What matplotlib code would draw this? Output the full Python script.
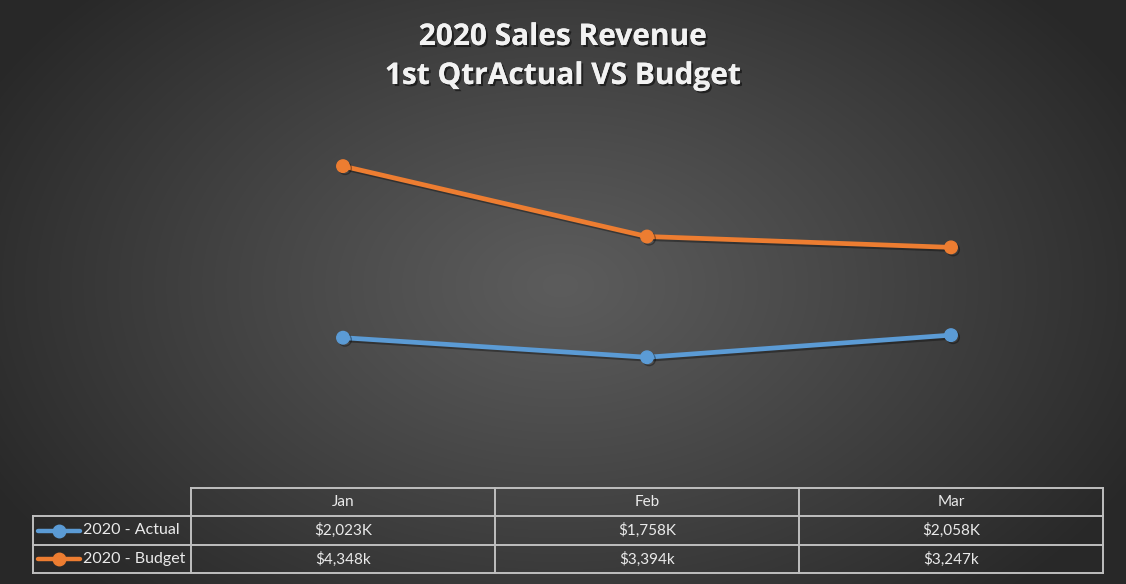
import numpy as np
import matplotlib
matplotlib.use("Agg")
import matplotlib.pyplot as plt
import matplotlib.patheffects as pe

# ---- data ----
months = ["Jan", "Feb", "Mar"]
actual = [2023, 1758, 2058]
budget = [4348, 3394, 3247]
series_names = ["2020 - Actual", "2020 - Budget"]
actual_suffix = "K"
budget_suffix = "k"
title_lines = ["2020 Sales Revenue", "1st QtrActual VS Budget"]

blue = "#5B9BD5"
orange = "#ED7D31"
grid_col = "#BFBFBF"
text_col = "#EAEAEA"

W, H = 1126, 584
fig = plt.figure(figsize=(W / 100, H / 100), dpi=100)

# background: radial gradient
bg = fig.add_axes([0, 0, 1, 1])
bg.set_xlim(0, W)
bg.set_ylim(H, 0)
bg.axis("off")
yy, xx = np.mgrid[0:H, 0:W]
cx, cy = 560, 285
r = np.sqrt(((xx - cx) / 650.0) ** 2 + ((yy - cy) / 430.0) ** 2)
r = np.clip(r, 0, 1)
c0, c1 = 0x5C / 255, 0x28 / 255
val = c0 + (c1 - c0) * r ** 1.1
img = np.dstack([val, val, val])
bg.imshow(img, extent=[0, W, H, 0], aspect="auto", zorder=0, interpolation="bilinear")

# title
shadow = [pe.withSimplePatchShadow(offset=(1.5, -1.5), shadow_rgbFace="black", alpha=0.5), pe.Normal()]
for i, line in enumerate(title_lines):
    bg.text(563, 37 + i * 39, line, ha="center", va="center", fontsize=21.5,
            fontweight="bold", family=["Open Sans", "DejaVu Sans"], color="#F2F2F2",
            path_effects=shadow, zorder=5)

# plot area
left, right = 191, 1103
top, bottom = 118, 487
ax = fig.add_axes([left / W, 1 - bottom / H, (right - left) / W, (bottom - top) / H])
ax.patch.set_alpha(0)
ax.set_xlim(-0.5, len(months) - 0.5)
ax.set_ylim(0, 5000)
ax.axis("off")
x = np.arange(len(months))
lshadow = [pe.SimpleLineShadow(offset=(1.5, -1.5), shadow_color="black", alpha=0.35), pe.Normal()]
ax.plot(x, actual, color=blue, lw=3.4, marker="o", ms=9, solid_capstyle="round",
        path_effects=lshadow, zorder=3)
ax.plot(x, budget, color=orange, lw=3.4, marker="o", ms=9, solid_capstyle="round",
        path_effects=lshadow, zorder=3)

# data table
tfont = ["Lato", "DejaVu Sans"]
lx0 = 33
rows_y = [488, 516, 545, 573]
col_x = [left + (right - left) * k / len(months) for k in range(len(months) + 1)]
lw = 1.4
bg.plot([left, right], [rows_y[0], rows_y[0]], color=grid_col, lw=lw, zorder=4)
for yv in rows_y[1:]:
    bg.plot([lx0, right], [yv, yv], color=grid_col, lw=lw, zorder=4)
for xv in col_x:
    bg.plot([xv, xv], [rows_y[0], rows_y[3]], color=grid_col, lw=lw, zorder=4)
bg.plot([lx0, lx0], [rows_y[1], rows_y[3]], color=grid_col, lw=lw, zorder=4)

for k, m in enumerate(months):
    xc = (col_x[k] + col_x[k + 1]) / 2
    bg.text(xc, (rows_y[0] + rows_y[1]) / 2, m, ha="center", va="center",
            fontsize=11, family=tfont, color=text_col, zorder=5)
    bg.text(xc, (rows_y[1] + rows_y[2]) / 2, f"${actual[k]:,}{actual_suffix}", ha="center",
            va="center", fontsize=11, family=tfont, color=text_col, zorder=5)
    bg.text(xc, (rows_y[2] + rows_y[3]) / 2, f"${budget[k]:,}{budget_suffix}", ha="center",
            va="center", fontsize=11, family=tfont, color=text_col, zorder=5)

for i, (name, col) in enumerate(zip(series_names, [blue, orange])):
    yc = (rows_y[i + 1] + rows_y[i + 2]) / 2
    bg.plot([38, 80], [yc, yc], color=col, lw=3.2, solid_capstyle="round", zorder=5)
    bg.plot([59], [yc], color=col, marker="o", ms=9, zorder=6)
    bg.text(83, yc, name, ha="left", va="center", fontsize=11.5, family=tfont,
            color=text_col, zorder=5)

fig.savefig("out.png", dpi=100)
